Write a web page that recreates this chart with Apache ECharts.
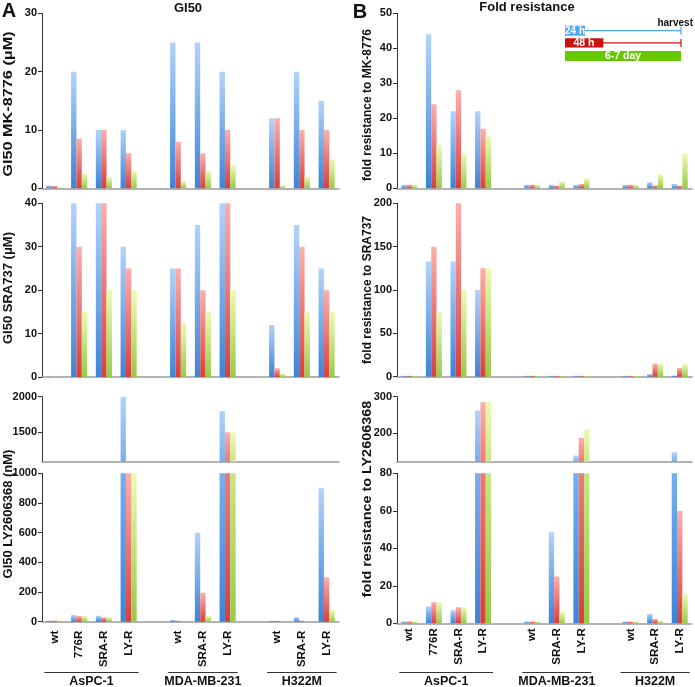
<!DOCTYPE html>
<html><head><meta charset="utf-8">
<script src="https://cdn.jsdelivr.net/npm/echarts@6/dist/echarts.min.js"></script>
<style>html,body{margin:0;padding:0;background:#fff}#c{width:695px;height:687px}</style>
</head><body><div id="c"></div><script>
// ---------- DATA ----------
const categories = ['wt','776R','SRA-R','LY-R','','wt','SRA-R','LY-R','','wt','SRA-R','LY-R'];
const groupNames = ['AsPC-1','MDA-MB-231','H322M'];
const groupFrom  = [0, 5, 9];
const groupTo    = [3, 7, 11];
const seriesNames = ['24 h','48 h','6-7 day'];

// GI50 MK-8776 (uM)
const gi50MK_24h = [0.5, 20, 10, 10, null, 25, 25, 20, null, 12, 20, 15];
const gi50MK_48h = [0.4, 8.5, 10, 6, null, 8, 6, 10, null, 12, 10, 10];
const gi50MK_6d  = [0.2, 2.5, 2, 3, null, 1.3, 3, 4, null, 0.5, 2, 5];
// GI50 SRA737 (uM)
const gi50SRA_24h = [0.2, 40, 40, 30, null, 25, 35, 40, null, 12, 35, 25];
const gi50SRA_48h = [0, 30, 40, 25, null, 25, 20, 40, null, 2, 30, 20];
const gi50SRA_6d  = [0, 15, 20, 20, null, 12.5, 15, 20, null, 0.8, 15, 15];
// GI50 LY2606368 (nM)
const gi50LY_24h = [8, 45, 40, 2000, null, 12, 600, 1800, null, 6, 30, 900];
const gi50LY_48h = [8, 38, 30, 1000, null, 6, 195, 1500, null, 6, 6, 300];
const gi50LY_6d  = [8, 38, 30, 1000, null, 5, 40, 1500, null, 6, 5, 80];
// fold resistance to MK-8776
const foldMK_24h = [1, 44, 22, 22, null, 1, 1, 1, null, 1, 1.7, 1.2];
const foldMK_48h = [1, 24, 28, 17, null, 1, 0.8, 1.2, null, 1, 0.8, 0.8];
const foldMK_6d  = [1, 12.5, 10, 15, null, 1, 2, 2.8, null, 1, 4, 10];
// fold resistance to SRA737
const foldSRA_24h = [1, 133, 133, 100, null, 1, 1, 1, null, 1, 3, 1.5];
const foldSRA_48h = [1, 150, 200, 125, null, 1, 1, 1, null, 1, 15, 10];
const foldSRA_6d  = [1, 75, 100, 125, null, 1, 1, 1, null, 1, 15, 15];
// fold resistance to LY2606368
const foldLY_24h = [1, 9, 7, 262, null, 1, 48.5, 138, null, 1, 5, 147];
const foldLY_48h = [1, 11.2, 8.5, 285, null, 1, 25, 186, null, 1, 2.3, 60];
const foldLY_6d  = [1, 11.2, 8.5, 286, null, 1, 6, 211, null, 1, 1.3, 16];

// tick values
const ticksMK = {min:0, max:30, interval:10};
const ticksSRA = {min:0, max:40, interval:10};
const ticksLYupper = {min:1080, max:2000, values:[1500, 2000]};
const ticksLYlower = {min:0, max:1000, interval:200};
const ticksFoldMK = {min:0, max:50, interval:10};
const ticksFoldSRA = {min:0, max:200, interval:50};
const ticksFoldLYupper = {min:120, max:300, values:[200, 300]};
const ticksFoldLYlower = {min:0, max:80, interval:20};

// ---------- STYLE ----------
const FONT = "'Liberation Sans', Arial, Helvetica, sans-serif";
const COL = [
  {top:'#b2d3fb', mid:'#78aeee', bottom:'#3c84d8'},
  {top:'#fdaeac', mid:'#ec7a78', bottom:'#d6403e'},
  {top:'#eefab4', mid:'#c8e682', bottom:'#98ca46'}
];
function grad(a,b){return new echarts.graphic.LinearGradient(0,0,0,1,[{offset:0,color:a},{offset:1,color:b}]);}

const L = {left:42, width:297};
const R = {left:397, width:295};
const panels = [
  {g:{...L, top:13.3, height:175}, t:ticksMK, d:[gi50MK_24h,gi50MK_48h,gi50MK_6d]},
  {g:{...L, top:203.3, height:173.7}, t:ticksSRA, d:[gi50SRA_24h,gi50SRA_48h,gi50SRA_6d]},
  {g:{...L, top:396.7, height:65.3}, t:ticksLYupper, d:[gi50LY_24h,gi50LY_48h,gi50LY_6d], part:'upper'},
  {g:{...L, top:473.3, height:148.4}, t:ticksLYlower, d:[gi50LY_24h,gi50LY_48h,gi50LY_6d], part:'lower', xl:true, margin:9},
  {g:{...R, top:13.3, height:175}, t:ticksFoldMK, d:[foldMK_24h,foldMK_48h,foldMK_6d]},
  {g:{...R, top:203.3, height:173.4}, t:ticksFoldSRA, d:[foldSRA_24h,foldSRA_48h,foldSRA_6d]},
  {g:{...R, top:396.7, height:65.3}, t:ticksFoldLYupper, d:[foldLY_24h,foldLY_48h,foldLY_6d], part:'upper'},
  {g:{...R, top:473.3, height:150}, t:ticksFoldLYlower, d:[foldLY_24h,foldLY_48h,foldLY_6d], part:'lower', xl:true, margin:5}
];

const grid=[], xAxis=[], yAxis=[], series=[];
panels.forEach((p,i)=>{
  grid.push(p.g);
  xAxis.push({
    gridIndex:i, type:'category', data:categories,
    axisLine:{show:true, lineStyle:{color:'#9a9a9a', width:1.5}},
    axisTick:{show:false},
    axisLabel: p.xl ? {show:true, interval:0, rotate:90, margin:p.margin, fontFamily:FONT, fontWeight:'bold', fontSize:11.5, color:'#111'} : {show:false},
    splitLine:{show:false}
  });
  const ya = {
    gridIndex:i, type:'value', min:p.t.min, max:p.t.max,
    axisLine:{show:true, lineStyle:{color:'#333', width:1}},
    axisTick:{show:true, length:4, lineStyle:{color:'#333'}},
    axisLabel:{fontFamily:FONT, fontWeight:'bold', fontSize:11, color:'#111', margin:5, formatter:v=>String(v)},
    splitLine:{show:false}
  };
  if (p.t.values) {
    ya.axisTick.customValues = p.t.values;
    ya.axisLabel.customValues = p.t.values;
  } else {
    ya.interval = p.t.interval;
  }
  yAxis.push(ya);
  p.d.forEach((arr,k)=>{
    const c = COL[k];
    const data = arr.map(v=>{
      if (v===null) return null;
      if (p.part==='upper') {
        if (v <= p.t.min) return null;
        return {value:v, itemStyle:{color:grad(c.top,c.mid)}};
      }
      if (p.part==='lower' && v > p.t.max) return {value:v, itemStyle:{color:grad(c.mid,c.bottom)}};
      return {value:v, itemStyle:{color:grad(c.top,c.bottom)}};
    });
    series.push({
      type:'bar', name:seriesNames[k], xAxisIndex:i, yAxisIndex:i, data,
      barGap:'0%', barCategoryGap:'35%', clip:true, silent:true
    });
  });
});

const chart = echarts.init(document.getElementById('c'), null, {renderer:'canvas'});
chart.setOption({animation:false, backgroundColor:'#fff', grid, xAxis, yAxis, series});

// ---------- TEXT / ANNOTATIONS ----------
function txt(text,x,y,size,opt={}){
  return {type:'text', x, y, rotation:opt.rot||0, scaleX:opt.sx||1, silent:true,
    style:{text, fontFamily:FONT, fontWeight:opt.w||'bold', fontSize:size, fill:opt.fill||'#111',
      textAlign:opt.align||'center', textVerticalAlign:'middle'}};
}
const V = Math.PI/2;
const els = [
  txt('A', 9, 11, 20),
  txt('B', 360, 12, 20),
  txt('GI50', 188, 8, 13),
  txt('Fold resistance', 527, 7, 13),
  txt('GI50 MK-8776 (μM)', 8, 104, 13, {rot:V, sx:1.25}),
  txt('GI50 SRA737 (μM)', 8, 288, 13, {rot:V}),
  txt('GI50 LY2606368 (nM)', 8, 514, 13, {rot:V}),
  txt('fold resistance to MK-8776', 368, 105, 12, {rot:V}),
  txt('fold resistance to SRA737', 368, 290, 12, {rot:V}),
  txt('fold resistance to LY2606368', 368, 499, 12, {rot:V, sx:1.2}),
  // legend
  {type:'rect', shape:{x:565, y:25.7, width:20, height:10}, style:{fill:'#52a6f6'}, silent:true},
  txt('24 h', 575, 30.9, 10, {fill:'#fff'}),
  {type:'line', shape:{x1:585, y1:30.7, x2:681, y2:30.7}, style:{stroke:'#52a6f6', lineWidth:1.2}, silent:true},
  {type:'line', shape:{x1:681, y1:26.7, x2:681, y2:34.7}, style:{stroke:'#52a6f6', lineWidth:1.2}, silent:true},
  {type:'rect', shape:{x:565, y:38.3, width:38.3, height:9.2}, style:{fill:'#cc1111'}, silent:true},
  txt('48 h', 584, 43, 10.5, {fill:'#fff'}),
  {type:'line', shape:{x1:603, y1:42.9, x2:681, y2:42.9}, style:{stroke:'#cc1111', lineWidth:1.2}, silent:true},
  {type:'line', shape:{x1:681, y1:38.9, x2:681, y2:46.9}, style:{stroke:'#cc1111', lineWidth:1.2}, silent:true},
  {type:'rect', shape:{x:565, y:51, width:116, height:10}, style:{fill:'#66c800'}, silent:true},
  txt('6-7 day', 623, 56.2, 10.5, {fill:'#fff'}),
  txt('harvest', 693, 23, 10, {align:'right'})
];
// group underlines + names positioned from the category axes
[3,7].forEach(ax=>{
  groupNames.forEach((name,gi)=>{
    const x0 = chart.convertToPixel({xAxisIndex:ax}, groupFrom[gi]) - 10;
    const x1 = chart.convertToPixel({xAxisIndex:ax}, groupTo[gi]) + 10;
    els.push({type:'line', shape:{x1:x0, y1:672.5, x2:x1, y2:672.5}, style:{stroke:'#333', lineWidth:1}, silent:true});
    els.push(txt(name, (x0+x1)/2, 681.5, 12.5));
  });
});
chart.setOption({graphic:{elements:els}});
</script></body></html>
